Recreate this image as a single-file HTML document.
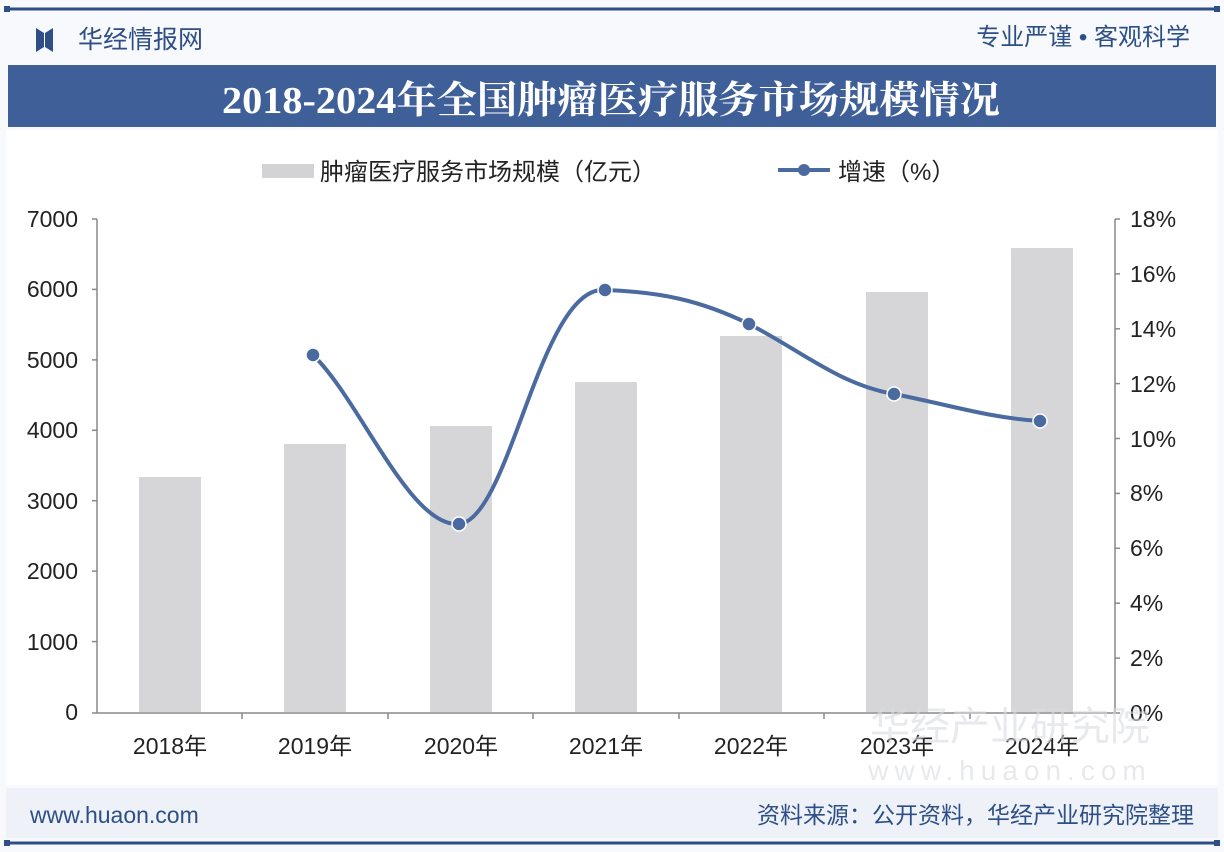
<!DOCTYPE html>
<html><head><meta charset="utf-8"><style>
body{margin:0;width:1224px;height:852px;background:#f6f8fb;font-family:"Liberation Sans","Noto Sans CJK SC",sans-serif;overflow:hidden;position:relative}
</style></head><body>
<svg width="1224" height="852" xmlns="http://www.w3.org/2000/svg" style="position:absolute;left:0;top:0">
<rect width="1224" height="852" fill="#f7f9fc"/>
<line x1="6" y1="9" x2="1218" y2="9" stroke="#2d4f86" stroke-width="3"/>
<rect x="4" y="6" width="6" height="6" fill="#2d4f86"/><rect x="1214" y="6" width="6" height="6" fill="#2d4f86"/>
<path d="M36 28 L44 33 L44 47 L36 52 Z M53 28 L45 33 L45 47 L53 52 Z" fill="#2d4f86"/>
<text x="78" y="48" font-size="25" fill="#2d4f86" font-family="Liberation Sans,Noto Sans CJK SC,sans-serif">华经情报网</text>
<text x="1190" y="45" font-size="24" fill="#2d4f86" text-anchor="end" font-family="Liberation Sans,Noto Sans CJK SC,sans-serif">专业严谨 • 客观科学</text>
<rect x="8" y="65" width="1208" height="62" fill="#3f5f99"/>
<text x="222" y="113" font-size="38" font-weight="bold" fill="#fff" textLength="778" lengthAdjust="spacingAndGlyphs" font-family="Liberation Serif,Noto Serif CJK SC,serif">2018-2024年全国肿瘤医疗服务市场规模情况</text>
<rect x="6" y="130" width="1212" height="655" fill="#fff"/>
<rect x="262" y="164" width="52" height="14" fill="#d3d3d5"/>
<text x="320" y="180" font-size="24" fill="#222" font-family="Liberation Sans,Noto Sans CJK SC,sans-serif">肿瘤医疗服务市场规模（亿元）</text>
<line x1="778" y1="170" x2="830" y2="170" stroke="#4a6aa0" stroke-width="4"/><circle cx="804" cy="170" r="6" fill="#4a6aa0"/>
<text x="838" y="180" font-size="24" fill="#222" font-family="Liberation Sans,Noto Sans CJK SC,sans-serif">增速（%）</text>
<g fill="#d6d6d8">
<rect x="139" y="477" width="62" height="235"/>
<rect x="284" y="444" width="62" height="268"/>
<rect x="430" y="426" width="62" height="286"/>
<rect x="575" y="382" width="62" height="330"/>
<rect x="720" y="336" width="62" height="376"/>
<rect x="866" y="292" width="62" height="420"/>
<rect x="1011" y="248" width="62" height="464"/>
</g>
<line x1="97" y1="219" x2="97" y2="713" stroke="#888" stroke-width="1.5"/>
<line x1="1115" y1="219" x2="1115" y2="713" stroke="#888" stroke-width="1.5"/>
<line x1="92" y1="713" x2="1120" y2="713" stroke="#888" stroke-width="1.5"/>
<g stroke="#888" stroke-width="1.5">
<line x1="92" y1="219" x2="97" y2="219"/><line x1="92" y1="289.4" x2="97" y2="289.4"/><line x1="92" y1="359.9" x2="97" y2="359.9"/><line x1="92" y1="430.3" x2="97" y2="430.3"/><line x1="92" y1="500.7" x2="97" y2="500.7"/><line x1="92" y1="571.1" x2="97" y2="571.1"/><line x1="92" y1="641.6" x2="97" y2="641.6"/>
<line x1="1115" y1="219" x2="1120" y2="219"/><line x1="1115" y1="273.9" x2="1120" y2="273.9"/><line x1="1115" y1="328.8" x2="1120" y2="328.8"/><line x1="1115" y1="383.6" x2="1120" y2="383.6"/><line x1="1115" y1="438.5" x2="1120" y2="438.5"/><line x1="1115" y1="493.4" x2="1120" y2="493.4"/><line x1="1115" y1="548.3" x2="1120" y2="548.3"/><line x1="1115" y1="603.2" x2="1120" y2="603.2"/><line x1="1115" y1="658.1" x2="1120" y2="658.1"/>
<line x1="242" y1="713" x2="242" y2="719"/><line x1="388" y1="713" x2="388" y2="719"/><line x1="533" y1="713" x2="533" y2="719"/><line x1="679" y1="713" x2="679" y2="719"/><line x1="824" y1="713" x2="824" y2="719"/><line x1="970" y1="713" x2="970" y2="719"/>
</g>
<g font-size="23" fill="#222" text-anchor="end" font-family="Liberation Sans,sans-serif">
<text x="78" y="227">7000</text><text x="78" y="297">6000</text><text x="78" y="368">5000</text><text x="78" y="438">4000</text><text x="78" y="509">3000</text><text x="78" y="579">2000</text><text x="78" y="650">1000</text><text x="78" y="720">0</text>
</g>
<g font-size="23" fill="#222" font-family="Liberation Sans,sans-serif">
<text x="1130" y="227">18%</text><text x="1130" y="282">16%</text><text x="1130" y="337">14%</text><text x="1130" y="392">12%</text><text x="1130" y="447">10%</text><text x="1130" y="501">8%</text><text x="1130" y="556">6%</text><text x="1130" y="611">4%</text><text x="1130" y="666">2%</text><text x="1130" y="721">0%</text>
</g>
<g font-size="23" fill="#222" text-anchor="middle" font-family="Liberation Sans,Noto Sans CJK SC,sans-serif">
<text x="170" y="754">2018年</text><text x="315" y="754">2019年</text><text x="461" y="754">2020年</text><text x="606" y="754">2021年</text><text x="751" y="754">2022年</text><text x="897" y="754">2023年</text><text x="1042" y="754">2024年</text>
</g>
<path d="M313 355 C360 400,410 528,459 524 C510 520,540 285,605 290 C660 292,700 300,749 324 C800 350,840 385,894 394 C950 405,990 418,1040 421" fill="none" stroke="#4a6aa0" stroke-width="4"/>
<g fill="#4a6aa0" stroke="#fff" stroke-width="1.5">
<circle cx="313" cy="355" r="7"/><circle cx="459" cy="524" r="7"/><circle cx="605" cy="290" r="7"/><circle cx="749" cy="324" r="7"/><circle cx="894" cy="394" r="7"/><circle cx="1040" cy="421" r="7"/>
</g>
<text x="1010" y="740" font-size="40" fill="#d8dbe0" opacity="0.6" text-anchor="middle" font-family="Liberation Sans,Noto Sans CJK SC,sans-serif">华经产业研究院</text>
<text x="1010" y="780" font-size="28" fill="#d8dbe0" opacity="0.6" text-anchor="middle" letter-spacing="6" font-family="Liberation Sans,sans-serif">www.huaon.com</text>
<rect x="6" y="788" width="1212" height="50" fill="#eef2f8"/>
<text x="30" y="823" font-size="23" fill="#2d4f86" font-family="Liberation Sans,sans-serif">www.huaon.com</text>
<text x="1194" y="823" font-size="23" fill="#2d4f86" text-anchor="end" font-family="Liberation Sans,Noto Sans CJK SC,sans-serif">资料来源：公开资料，华经产业研究院整理</text>
<line x1="6" y1="843" x2="1218" y2="843" stroke="#2d4f86" stroke-width="3"/>
<rect x="4" y="840" width="6" height="6" fill="#2d4f86"/><rect x="1214" y="840" width="6" height="6" fill="#2d4f86"/>
</svg>
</body></html>
